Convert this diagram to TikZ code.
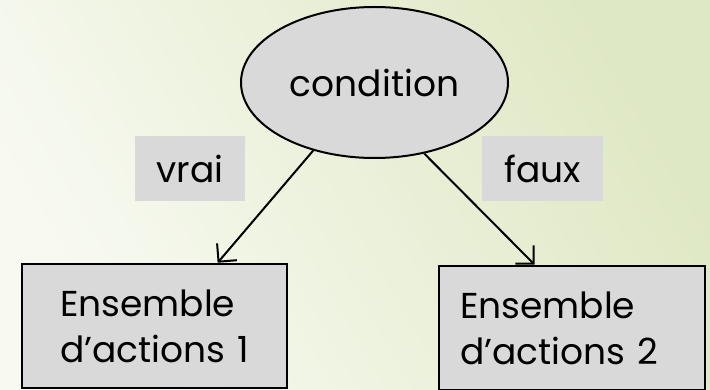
\documentclass[tikz,border=0pt]{standalone}
\usepackage{fontspec}
\setmainfont{Poppins}
\usetikzlibrary{shapes.geometric,arrows.meta,calc}
\definecolor{bgLight}{HTML}{F8FAF2}
\definecolor{bgGreen}{HTML}{DFE8C4}
\definecolor{boxgray}{HTML}{D9D9D9}
\tikzset{
  bigtext/.style={font=\fontsize{36}{46}\selectfont},
  condnode/.style={ellipse, draw=black, line width=2pt, fill=boxgray, minimum width=267pt, minimum height=151pt, inner sep=0pt, bigtext},
  labelbox/.style={rectangle, fill=boxgray, minimum height=65pt, inner sep=0pt, bigtext},
  actionbox/.style={rectangle, draw=black, line width=2.5pt, fill=boxgray, minimum height=124pt, inner ysep=0pt, align=left, bigtext},
  arr/.style={line width=2pt, -{Straight Barb[length=13pt,width=26pt,line width=2pt]}}
}
\begin{document}
\begin{tikzpicture}[x=1pt,y=-1pt]
  \useasboundingbox (0,0) rectangle (710,390);
  \shade[bottom color=bgLight, top color=bgGreen, shading angle=-60] (0,0) rectangle (710,390);
  \node[condnode] (cond) at (374.5,82.5) {condition};
  \node[labelbox, minimum width=110pt] (vrai) at (190,168.5) {vrai};
  \node[labelbox, minimum width=121pt] (faux) at (542.5,168.5) {faux};
  \node[actionbox, inner xsep=38pt, text width=189pt] (b1) at (154.5,326) {Ensemble\\\mbox{d’actions 1}};
  \node[actionbox, inner xsep=21pt, text width=224pt] (b2) at (572,328) {Ensemble\\\mbox{d’actions 2}};
  \draw[arr] (cond.228) -- ($(b1.north west)!0.736!(b1.north east)$);
  \draw[arr] (cond.-55) -- ($(b2.north west)!0.361!(b2.north east)$);
\end{tikzpicture}
\end{document}
